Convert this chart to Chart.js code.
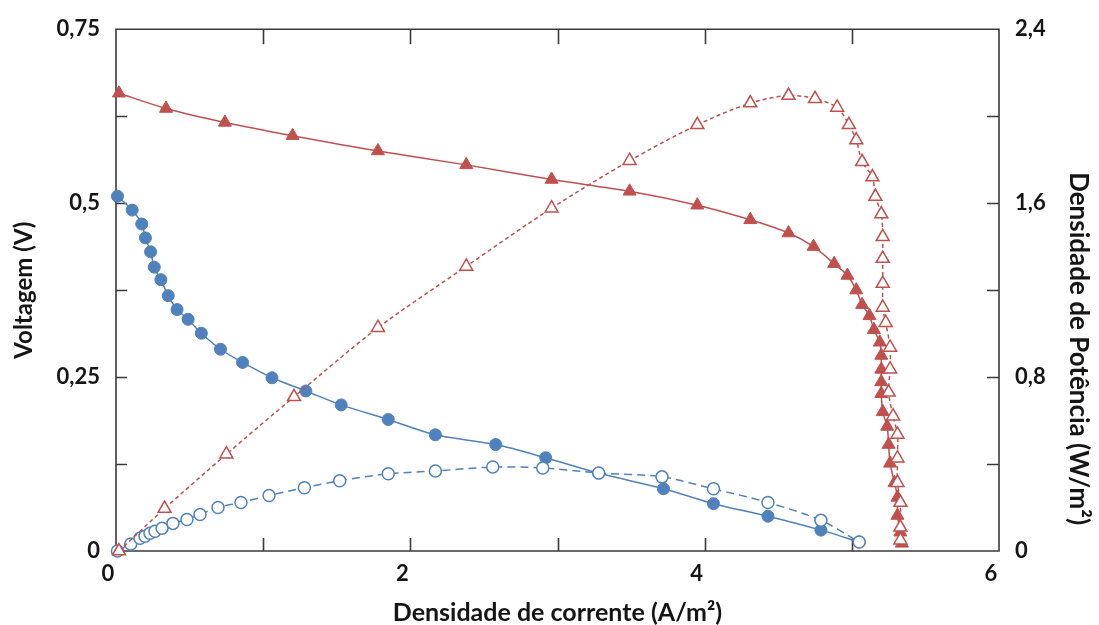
<!DOCTYPE html>
<html>
<head>
<meta charset="utf-8">
<script src="https://cdn.jsdelivr.net/npm/chart.js@4.4.1/dist/chart.umd.min.js"></script>
<style>
  html, body { margin: 0; padding: 0; background: #ffffff; }
  #wrap { width: 1099px; height: 625px; }
</style>
</head>
<body>
<div id="wrap"><canvas id="c" width="1099" height="625"></canvas></div>
<script>
// ---- Data ----
// Red series: voltage (filled triangles, left axis) and power density (open triangles, right axis)
const redVoltX = [0.02, 0.34, 0.74, 1.20, 1.78, 2.38, 2.96, 3.49, 3.95, 4.31, 4.57, 4.74, 4.88, 4.97, 5.03, 5.07, 5.12, 5.15, 5.19, 5.20, 5.20, 5.20, 5.20, 5.21, 5.24, 5.25, 5.26, 5.29, 5.31, 5.31, 5.33, 5.34];
const redVolt  = [0.658, 0.636, 0.616, 0.597, 0.575, 0.555, 0.534, 0.517, 0.497, 0.476, 0.457, 0.4375, 0.413, 0.396, 0.375, 0.354, 0.338, 0.318, 0.300, 0.281, 0.261, 0.243, 0.226, 0.200, 0.179, 0.153, 0.126, 0.098, 0.077, 0.051, 0.027, 0.011];
const redPowX  = [0.02, 0.33, 0.75, 1.21, 1.78, 2.38, 2.96, 3.49, 3.95, 4.31, 4.57, 4.75, 4.90, 4.98, 5.03, 5.07, 5.14, 5.16, 5.20, 5.21, 5.21, 5.21, 5.21, 5.23, 5.26, 5.26, 5.25, 5.28, 5.31, 5.31, 5.31, 5.33, 5.33, 5.33];
const redPow   = [0.0, 0.195, 0.445, 0.709, 1.027, 1.309, 1.577, 1.795, 1.96, 2.06, 2.095, 2.08, 2.04, 1.96, 1.89, 1.79, 1.72, 1.63, 1.55, 1.445, 1.345, 1.23, 1.12, 1.05, 0.936, 0.836, 0.73, 0.62, 0.536, 0.427, 0.314, 0.223, 0.109, 0.05];

// Blue series: voltage (filled circles, left axis) and power density (open circles, right axis)
const blueVoltX = [0.01, 0.11, 0.175, 0.20, 0.235, 0.26, 0.305, 0.355, 0.415, 0.49, 0.58, 0.71, 0.86, 1.06, 1.29, 1.53, 1.85, 2.17, 2.58, 2.92, 3.28, 3.72, 4.06, 4.43, 4.79, 5.05];
const blueVolt  = [0.51, 0.49, 0.47, 0.45, 0.43, 0.408, 0.39, 0.367, 0.347, 0.333, 0.313, 0.29, 0.271, 0.249, 0.23, 0.21, 0.189, 0.167, 0.153, 0.134, 0.112, 0.0895, 0.068, 0.05, 0.03, 0.013];
const bluePowX  = [0.01, 0.10, 0.163, 0.197, 0.231, 0.265, 0.313, 0.387, 0.482, 0.571, 0.693, 0.849, 1.04, 1.28, 1.52, 1.85, 2.17, 2.56, 2.90, 3.28, 3.71, 4.06, 4.43, 4.79, 5.05];
const bluePow   = [0.0, 0.032, 0.059, 0.068, 0.082, 0.091, 0.105, 0.127, 0.145, 0.168, 0.20, 0.223, 0.255, 0.291, 0.323, 0.355, 0.368, 0.386, 0.382, 0.359, 0.341, 0.286, 0.223, 0.141, 0.041];

// Axis ranges and labelled tick values
const xLabelledTicks  = [0, 2, 4, 6];
const yLabelledTicks  = [0, 0.25, 0.5, 0.75];
const y1LabelledTicks = [0, 0.8, 1.6, 2.4];

const xTitle  = 'Densidade de corrente (A/m²)';
const yTitle  = 'Voltagem (V)';
const y1Title = 'Densidade de Potência (W/m²)';

// ---- Styling ----
const RED = '#C0504D';
const BLUE = '#4F81BD';
const TEXT = '#151515';
const FONT = 'Lato, "Open Sans", "Liberation Sans", sans-serif';

function pts(xs, ys) { return xs.map((x, i) => ({ x: x, y: ys[i] })); }
function isLabelled(v, list) { return list.some(t => Math.abs(t - v) < 1e-6); }
function fmt(v) { return String(Math.round(v * 1000) / 1000).replace('.', ','); }

// Inward tick marks + box frame drawn from the library's scales
const frameTicks = {
  id: 'frameTicks',
  beforeDatasetsDraw(chart) {
    const { ctx, chartArea: a, scales } = chart;
    ctx.save();
    ctx.strokeStyle = '#3a3a3a';
    ctx.lineWidth = 1.6;
    ctx.beginPath();
    ctx.rect(a.left, a.top, a.right - a.left, a.bottom - a.top);
    ctx.stroke();
    ctx.beginPath();
    scales.x.ticks.forEach(t => {
      const px = Math.round(scales.x.getPixelForValue(t.value)) + 0.5;
      if (px <= a.left + 1 || px >= a.right - 1) return;
      ctx.moveTo(px, a.bottom); ctx.lineTo(px, a.bottom - 13);
      ctx.moveTo(px, a.top); ctx.lineTo(px, a.top + 15);
    });
    scales.y.ticks.forEach(t => {
      const py = Math.round(scales.y.getPixelForValue(t.value)) + 0.5;
      if (py <= a.top + 1 || py >= a.bottom - 1) return;
      ctx.moveTo(a.left, py); ctx.lineTo(a.left + 11, py);
    });
    scales.y1.ticks.forEach(t => {
      const py = Math.round(scales.y1.getPixelForValue(t.value)) + 0.5;
      if (py <= a.top + 1 || py >= a.bottom - 1) return;
      ctx.moveTo(a.right, py); ctx.lineTo(a.right - 12, py);
    });
    ctx.stroke();
    ctx.restore();
  }
};

Chart.defaults.font.family = FONT;
Chart.defaults.color = TEXT;

new Chart(document.getElementById('c'), {
  type: 'line',
  data: {
    datasets: [
      {
        label: 'Potência (vermelho)',
        data: pts(redPowX, redPow),
        yAxisID: 'y1',
        order: 0,
        borderColor: RED,
        borderWidth: 1.5,
        borderDash: [4, 3],
        tension: 0.3,
        pointStyle: 'triangle',
        pointRadius: 7.5,
        pointBorderWidth: 1.5,
        pointBorderColor: RED,
        pointBackgroundColor: '#ffffff',
        clip: false
      },
      {
        label: 'Potência (azul)',
        data: pts(bluePowX, bluePow),
        yAxisID: 'y1',
        order: 0,
        borderColor: BLUE,
        borderWidth: 1.5,
        borderDash: [8, 5],
        tension: 0.3,
        pointStyle: 'circle',
        pointRadius: 6,
        pointBorderWidth: 1.5,
        pointBorderColor: BLUE,
        pointBackgroundColor: '#ffffff',
        clip: false
      },
      {
        label: 'Voltagem (vermelho)',
        data: pts(redVoltX, redVolt),
        yAxisID: 'y',
        order: 1,
        borderColor: RED,
        borderWidth: 1.5,
        tension: 0.3,
        pointStyle: 'triangle',
        pointRadius: 7.5,
        pointBorderWidth: 1,
        pointBorderColor: RED,
        pointBackgroundColor: RED,
        clip: false
      },
      {
        label: 'Voltagem (azul)',
        data: pts(blueVoltX, blueVolt),
        yAxisID: 'y',
        order: 1,
        borderColor: BLUE,
        borderWidth: 1.5,
        tension: 0.3,
        pointStyle: 'circle',
        pointRadius: 6,
        pointBorderWidth: 1,
        pointBorderColor: BLUE,
        pointBackgroundColor: BLUE,
        clip: false
      }
    ]
  },
  options: {
    responsive: false,
    animation: false,
    devicePixelRatio: 1,
    layout: { padding: { top: 23, left: 0, right: 0, bottom: 0 } },
    plugins: {
      legend: { display: false },
      tooltip: { enabled: false },
      title: { display: false }
    },
    scales: {
      x: {
        type: 'linear',
        position: 'bottom',
        min: 0, max: 6,
        border: { display: false },
        grid: { display: false, drawTicks: false },
        ticks: {
          stepSize: 1,
          autoSkip: false,
          maxRotation: 0,
          padding: 10,
          labelOffset: -8,
          color: TEXT,
          font: { size: 22, weight: 'bold' },
          callback: v => isLabelled(v, xLabelledTicks) ? fmt(v) : ''
        },
        title: {
          display: true,
          text: xTitle,
          color: TEXT,
          font: { size: 25, weight: 'bold', lineHeight: 1 },
          padding: { top: 0, bottom: 0 }
        },
        afterFit: s => { s.height = 74; }
      },
      y: {
        type: 'linear',
        position: 'left',
        min: 0, max: 0.75,
        border: { display: false },
        grid: { display: false, drawTicks: false },
        ticks: {
          stepSize: 0.125,
          autoSkip: false,
          padding: 16,
          color: TEXT,
          font: { size: 22, weight: 'bold' },
          callback: v => isLabelled(v, yLabelledTicks) ? fmt(v) : ''
        },
        title: {
          display: true,
          text: yTitle,
          color: TEXT,
          font: { size: 24, weight: 'bold', lineHeight: 1 },
          padding: { top: 12, bottom: 0 }
        },
        afterFit: s => { s.width = 116; }
      },
      y1: {
        type: 'linear',
        position: 'right',
        min: 0, max: 2.4,
        border: { display: false },
        grid: { display: false, drawTicks: false },
        ticks: {
          stepSize: 0.4,
          autoSkip: false,
          padding: 16,
          color: TEXT,
          font: { size: 22, weight: 'bold' },
          callback: v => isLabelled(v, y1LabelledTicks) ? fmt(v) : ''
        },
        title: {
          display: true,
          text: y1Title + '\u2003 ',
          align: 'start',
          color: TEXT,
          font: { size: 26, weight: 'bold', lineHeight: 1 },
          padding: { top: 8, bottom: 0 }
        },
        afterFit: s => { s.width = 100; }
      }
    }
  },
  plugins: [frameTicks]
});
</script>
</body>
</html>
